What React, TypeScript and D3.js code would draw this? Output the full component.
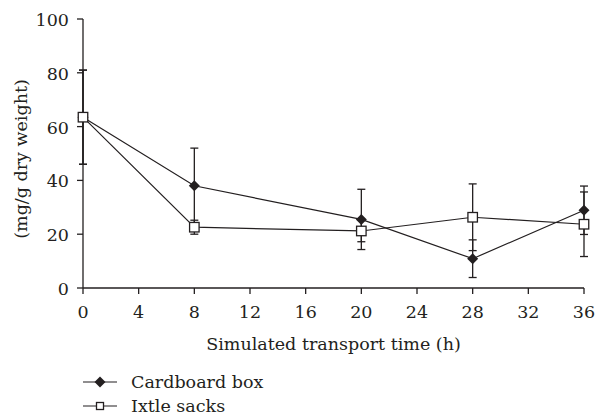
import React from 'react';
import * as d3 from 'd3';

const hours = [0, 8, 20, 28, 36];
const cardboard = [63.5, 38, 25.5, 10.9, 28.9];
const cardboardErr = [17.5, 14, 11.2, 7, 9];
const ixtle = [63.5, 22.6, 21.2, 26.3, 23.7];
const ixtleErr = [17.5, 2.6, 4, 12.4, 12];
const xTicks = [0, 4, 8, 12, 16, 20, 24, 28, 32, 36];
const yTicks = [0, 20, 40, 60, 80, 100];

const W = 597;
const H = 416;
const ink = '#231f20';
const fontStyle = { fontFamily: "'DejaVu Serif'", fontSize: '17.5px' };

const x = d3.scaleLinear().domain([0, 36]).range([83, 584]);
const y = d3.scaleLinear().domain([0, 100]).range([288, 19]);
const line = d3.line<number>().x((d, i) => x(hours[i])).y(d => y(d));

const series = [
  { name: 'Cardboard box', values: cardboard, err: cardboardErr, marker: 'diamond' },
  { name: 'Ixtle sacks', values: ixtle, err: ixtleErr, marker: 'square' },
];

const Marker = ({ kind, cx, cy, size }: { kind: string; cx: number; cy: number; size: number }) => {
  const h = size / 2;
  if (kind === 'diamond') {
    return <path d={`M${cx},${cy - h}L${cx + h},${cy}L${cx},${cy + h}L${cx - h},${cy}Z`} fill={ink} />;
  }
  return <rect x={cx - h} y={cy - h} width={size} height={size} fill="#fff" stroke={ink} strokeWidth={1.3} />;
};

const App = () => {
  return (
    <svg width={W} height={H} style={{ position: 'absolute', left: 0, top: 0, background: '#fff' }}>
      {/* x axis */}
      <line x1={x(0)} x2={x(36)} y1={y(0)} y2={y(0)} stroke={ink} strokeWidth={1.3} />
      {xTicks.map(t => (
        <g key={t}>
          <line x1={x(t)} x2={x(t)} y1={y(0)} y2={y(0) + 6} stroke={ink} strokeWidth={1.3} />
          <text x={x(t)} y={y(0) + 30} textAnchor="middle" fill={ink} style={fontStyle}>{t}</text>
        </g>
      ))}
      {/* y axis */}
      <line x1={x(0)} x2={x(0)} y1={y(0)} y2={y(100)} stroke={ink} strokeWidth={1.3} />
      {yTicks.map(t => (
        <g key={t}>
          <line x1={x(0) - 6} x2={x(0)} y1={y(t)} y2={y(t)} stroke={ink} strokeWidth={1.3} />
          <text x={x(0) - 14} y={y(t) + 7} textAnchor="end" fill={ink} style={fontStyle}>{t}</text>
        </g>
      ))}
      <text x={(x(0) + x(36)) / 2} y={350} textAnchor="middle" fill={ink} style={fontStyle}>
        Simulated transport time (h)
      </text>
      <text transform="translate(27,159) rotate(-90)" textAnchor="middle" fill={ink} style={fontStyle}>
        (mg/g dry weight)
      </text>

      {/* error bars */}
      {series.map(s =>
        s.values.map((v, i) => {
          const cx = x(hours[i]);
          const top = y(v + s.err[i]);
          const bot = y(v - s.err[i]);
          return (
            <g key={s.name + i} stroke={ink} strokeWidth={1.3}>
              <line x1={cx} x2={cx} y1={top} y2={bot} />
              <line x1={cx - 4} x2={cx + 4} y1={top} y2={top} />
              <line x1={cx - 4} x2={cx + 4} y1={bot} y2={bot} />
            </g>
          );
        })
      )}

      {/* lines */}
      {series.map(s => (
        <path key={s.name} d={line(s.values) || ''} fill="none" stroke={ink} strokeWidth={1.2} />
      ))}

      {/* markers */}
      {series.map(s =>
        s.values.map((v, i) => (
          <Marker key={s.name + 'm' + i} kind={s.marker} cx={x(hours[i])} cy={y(v)} size={s.marker === 'diamond' ? 11 : 9.5} />
        ))
      )}

      {/* legend */}
      {series.map((s, i) => {
        const ly = 382 + i * 24;
        return (
          <g key={s.name + 'leg'}>
            <line x1={83} x2={117} y1={ly} y2={ly} stroke={ink} strokeWidth={1.2} />
            <Marker kind={s.marker} cx={100} cy={ly} size={s.marker === 'diamond' ? 11 : 7} />
            <text x={131} y={ly + 6} fill={ink} style={fontStyle}>{s.name}</text>
          </g>
        );
      })}
    </svg>
  );
};

export default App;
